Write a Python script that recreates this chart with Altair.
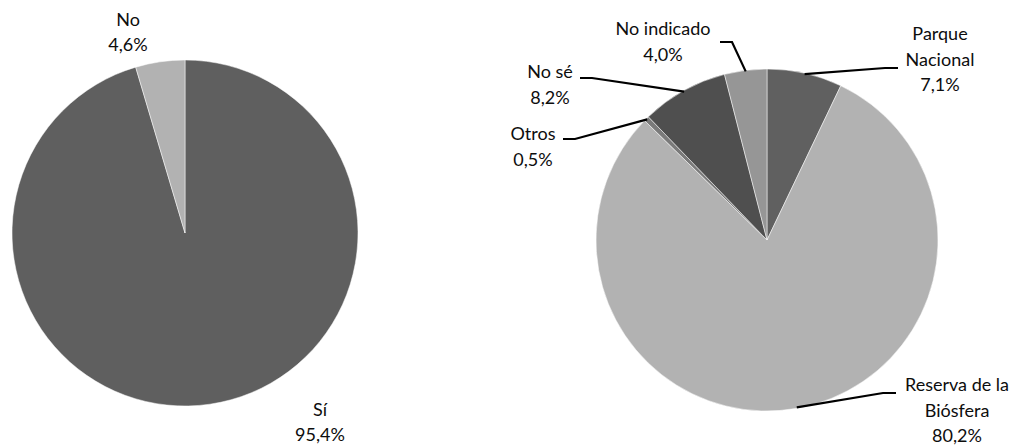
import math

import altair as alt
import pandas as pd

W, H = 1015, 448

# --- Pie 1: yes / no ---
q1_cats = ["Sí", "No"]
q1_vals = [95.4, 4.6]
q1_lines = [["Sí"], ["No"]]
q1_colors = ["#5f5f5f", "#b2b2b2"]

# --- Pie 2: type of protected area ---
q2_cats = ["Parque Nacional", "Reserva de la Biósfera", "Otros", "No sé", "No indicado"]
q2_vals = [7.1, 80.2, 0.5, 8.2, 4.0]
q2_lines = [["Parque", "Nacional"], ["Reserva de la", "Biósfera"], ["Otros"], ["No sé"], ["No indicado"]]
q2_colors = ["#606060", "#b2b2b2", "#7a7a7a", "#4f4f4f", "#969696"]

# Layout: pie centres / radii, label anchors and leader-line elbows
PIE1 = dict(cx=185, cy=233, r=173, gap=25)
PIE2 = dict(cx=767, cy=240, r=171, gap=25.5)
q1_label_xy = [(320, 411), (128, 21)]
q2_label_xy = [(940, 35), (957, 386), (533, 135), (550, 73), (663, 30)]
q1_leader = [None, None]
q2_leader = [
    [(885, 68), (898, 68)],
    [(883, 393), (896, 393)],
    [(575, 139), (563, 139)],
    [(592, 78), (580, 78)],
    [(732, 42), (720, 42)],
]


def fmt_pct(v):
    return f"{v:.1f}".replace(".", ",") + "%"


def build(cats, vals, lines, colors, label_xy, leader, pie, key):
    total = sum(vals)
    slices = pd.DataFrame({
        "cat": cats, "val": vals, "idx": list(range(len(cats))), "col": colors,
    })
    texts, pts = [], []
    cum = 0.0
    for i, (c, v) in enumerate(zip(cats, vals)):
        mid = (cum + v / 2) / total * 2 * math.pi
        cum += v
        lx, ly = label_xy[i]
        rows = lines[i] + [fmt_pct(v)]
        for j, t in enumerate(rows):
            texts.append({"x": lx, "y": ly + j * pie["gap"], "t": t})
        if leader[i]:
            ax = pie["cx"] + (pie["r"] - 1) * math.sin(mid)
            ay = pie["cy"] - (pie["r"] - 1) * math.cos(mid)
            seq = [(ax, ay)] + leader[i]
            for k, (px, py) in enumerate(seq):
                pts.append({"x": px, "y": py, "k": k, "g": f"{key}{i}"})

    arc = alt.Chart(slices).mark_arc(
        outerRadius=pie["r"], stroke="white", strokeWidth=0.5
    ).encode(
        theta=alt.Theta("val:Q", stack=True),
        color=alt.Color("col:N", scale=None),
        order=alt.Order("idx:Q"),
        x=alt.value(pie["cx"]),
        y=alt.value(pie["cy"]),
    )
    return arc, pd.DataFrame(texts), pd.DataFrame(pts)


arc1, t1, p1 = build(q1_cats, q1_vals, q1_lines, q1_colors, q1_label_xy, q1_leader, PIE1, "a")
arc2, t2, p2 = build(q2_cats, q2_vals, q2_lines, q2_colors, q2_label_xy, q2_leader, PIE2, "b")

xs = alt.Scale(domain=[0, W], range=[0, W])
ys = alt.Scale(domain=[0, H], range=[0, H])

labels = alt.Chart(pd.concat([t1, t2], ignore_index=True)).mark_text(
    font="Lato", fontSize=18, align="center", baseline="middle", color="#0d0d0d"
).encode(
    x=alt.X("x:Q", scale=xs, axis=None),
    y=alt.Y("y:Q", scale=ys, axis=None),
    text="t:N",
)

leaders = alt.Chart(p2).mark_line(color="black", strokeWidth=2.2).encode(
    x=alt.X("x:Q", scale=xs, axis=None),
    y=alt.Y("y:Q", scale=ys, axis=None),
    detail="g:N",
    order="k:Q",
)

chart = alt.layer(arc1, arc2, leaders, labels).properties(
    width=W, height=H, padding=0, autosize=alt.AutoSizeParams(type="none")
).configure_view(stroke=None)

chart.save("out.html", embed_options={"renderer": "svg", "actions": False})
